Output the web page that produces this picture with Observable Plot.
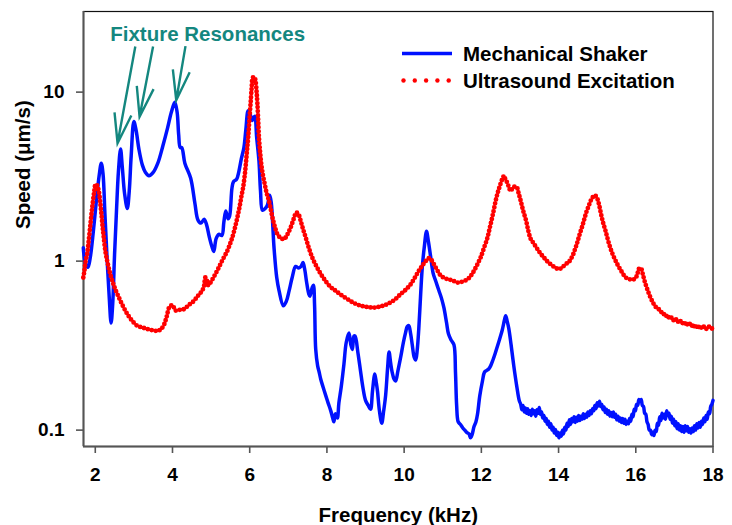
<!DOCTYPE html>
<html><head><meta charset="utf-8">
<script src="https://cdn.jsdelivr.net/npm/d3@7"></script>
<script src="https://cdn.jsdelivr.net/npm/@observablehq/plot@0.6"></script>
<style>
body{margin:0;background:#fff;}
#chart{width:732px;height:525px;}
</style></head><body><div id="chart"></div>
<script>
// ---- data ----
const shakerFreq = [1.69,1.75,1.81,1.87,1.95,2.03,2.10,2.155,2.20,2.25,2.30,2.36,2.41,2.45,2.50,2.55,2.60,2.655,2.70,2.76,2.83,2.88,2.93,3.00,3.06,3.13,3.22,3.30,3.39,3.50,3.62,3.75,3.87,3.97,4.06,4.12,4.16,4.20,4.24,4.32,4.47,4.58,4.66,4.74,4.82,4.88,4.95,5.02,5.07,5.13,5.20,5.28,5.33,5.38,5.44,5.48,5.54,5.58,5.66,5.72,5.78,5.85,5.90,5.96,6.02,6.07,6.13,6.18,6.24,6.28,6.33,6.40,6.46,6.52,6.56,6.63,6.70,6.76,6.87,6.95,7.02,7.10,7.19,7.27,7.33,7.38,7.43,7.47,7.53,7.56,7.62,7.65,7.68,7.71,7.76,7.80,7.84,7.90,7.97,8.03,8.10,8.15,8.18,8.22,8.27,8.31,8.37,8.44,8.50,8.57,8.62,8.66,8.70,8.73,8.80,8.87,8.93,9.00,9.07,9.13,9.18,9.24,9.28,9.31,9.36,9.42,9.47,9.52,9.57,9.61,9.65,9.69,9.74,9.78,9.84,9.91,9.98,10.04,10.08,10.12,10.17,10.21,10.26,10.30,10.34,10.38,10.43,10.47,10.52,10.58,10.63,10.69,10.75,10.82,10.90,10.97,11.03,11.10,11.15,11.22,11.29,11.33,11.36,11.40,11.46,11.52,11.57,11.62,11.68,11.72,11.76,11.81,11.86,11.90,11.96,12.03,12.08,12.13,12.19,12.24,12.30,12.36,12.41,12.48,12.54,12.60,12.63,12.67,12.71,12.77,12.84,12.92,12.98,
13.02,13.05,13.08,13.11,13.14,13.17,13.20,13.23,13.26,13.29,13.32,13.35,13.38,13.41,13.44,13.47,13.50,13.53,13.56,13.59,13.62,13.65,13.68,13.71,13.74,13.77,13.80,13.83,13.86,13.89,13.92,13.95,13.98,14.01,14.04,14.07,14.10,14.13,14.16,14.19,14.22,14.25,14.28,14.31,14.34,14.37,14.40,14.43,14.46,14.49,14.52,14.55,14.58,14.61,14.64,14.67,14.70,14.73,14.76,14.79,14.82,14.85,14.88,14.91,14.94,14.97,15.00,15.03,15.06,15.09,15.12,15.15,15.18,15.21,15.24,15.27,15.30,15.33,15.36,15.39,15.42,15.45,15.48,15.51,15.54,15.57,15.60,15.63,15.66,15.69,15.72,15.75,15.78,15.81,15.84,15.87,15.90,15.93,15.96,15.99,16.02,16.05,16.08,16.11,16.14,16.17,16.20,16.23,16.26,16.29,16.32,16.35,16.38,16.41,16.44,16.47,16.50,16.53,16.56,16.59,16.62,16.65,16.68,16.71,16.74,16.77,16.80,16.83,16.86,16.89,16.92,16.95,16.98,17.01,17.04,17.07,17.10,17.13,17.16,17.19,17.22,17.25,17.28,17.31,17.34,17.37,17.40,17.43,17.46,17.49,17.52,17.55,17.58,17.61,17.64,17.67,17.70,17.73,17.76,17.79,17.82,17.85,17.88,17.91,17.94,17.97,18.00];
const shakerSpeed = [1.2,0.96,0.92,1.05,1.5,2.3,3.2,3.8,3.3,1.9,1.1,0.62,0.43,0.55,1.1,2.0,3.4,4.6,3.6,2.5,2.05,2.6,4.2,6.7,5.9,4.6,3.7,3.35,3.2,3.35,3.8,4.8,6.1,7.6,8.7,7.6,5.6,4.7,4.7,3.8,3.1,2.2,1.75,1.68,1.77,1.65,1.4,1.22,1.14,1.36,1.44,1.42,1.7,1.98,1.78,1.85,2.7,2.95,3.05,3.4,4.0,4.7,6.0,7.75,7.3,6.8,7.2,5.4,3.9,2.6,2.0,2.05,2.15,2.45,2.2,1.2,0.8,0.67,0.545,0.58,0.667,0.8,0.93,0.91,0.93,0.98,0.88,0.76,0.64,0.62,0.7,0.72,0.55,0.30,0.24,0.22,0.2,0.18,0.16,0.145,0.13,0.118,0.112,0.125,0.118,0.145,0.18,0.245,0.33,0.375,0.32,0.30,0.36,0.36,0.29,0.224,0.18,0.15,0.14,0.133,0.17,0.215,0.19,0.17,0.13,0.11,0.13,0.16,0.23,0.29,0.25,0.22,0.2,0.195,0.225,0.27,0.33,0.38,0.41,0.415,0.37,0.32,0.27,0.26,0.30,0.40,0.65,0.92,1.2,1.5,1.3,1.05,0.85,0.76,0.67,0.6,0.53,0.43,0.37,0.34,0.32,0.22,0.14,0.112,0.108,0.103,0.1,0.097,0.095,0.09,0.094,0.105,0.112,0.124,0.16,0.196,0.22,0.225,0.23,0.24,0.26,0.285,0.31,0.35,0.39,0.45,0.475,0.44,0.4,0.32,0.24,0.18,0.15,
0.142,0.132,0.14,0.128,0.135,0.126,0.134,0.124,0.13,0.122,0.133,0.125,0.13,0.121,0.132,0.126,0.136,0.124,0.128,0.118,0.122,0.113,0.117,0.108,0.113,0.104,0.109,0.1,0.104,0.096,0.101,0.093,0.097,0.09,0.096,0.092,0.1,0.095,0.104,0.1,0.11,0.105,0.115,0.108,0.117,0.112,0.12,0.111,0.119,0.113,0.122,0.114,0.121,0.116,0.125,0.117,0.124,0.119,0.128,0.122,0.13,0.125,0.134,0.13,0.14,0.134,0.145,0.139,0.148,0.138,0.142,0.132,0.137,0.127,0.133,0.124,0.13,0.121,0.127,0.12,0.128,0.119,0.124,0.115,0.121,0.113,0.118,0.111,0.117,0.11,0.116,0.108,0.113,0.109,0.117,0.113,0.124,0.12,0.133,0.13,0.142,0.14,0.152,0.148,0.152,0.14,0.138,0.126,0.124,0.112,0.108,0.1,0.1,0.094,0.097,0.093,0.1,0.098,0.11,0.107,0.12,0.114,0.126,0.118,0.124,0.116,0.13,0.122,0.126,0.116,0.121,0.11,0.116,0.106,0.112,0.102,0.109,0.1,0.106,0.098,0.105,0.097,0.106,0.099,0.105,0.097,0.102,0.096,0.103,0.098,0.106,0.1,0.109,0.103,0.111,0.104,0.113,0.108,0.118,0.112,0.122,0.116,0.128,0.125,0.138,0.142,0.15];

const ultraFreq = [1.69,1.72,1.75,1.79,1.83,1.88,1.92,1.97,2.01,2.05,2.09,2.13,2.16,2.19,2.22,2.26,2.31,2.37,2.44,2.52,2.61,2.72,2.83,2.95,3.09,3.22,3.35,3.48,3.61,3.70,3.78,3.85,3.91,3.96,4.00,4.04,4.08,4.18,4.30,4.42,4.55,4.65,4.73,4.81,4.85,4.88,4.93,4.99,5.10,5.20,5.30,5.42,5.50,5.55,5.61,5.66,5.71,5.75,5.79,5.83,5.87,5.90,5.93,5.96,5.99,6.02,6.05,6.08,6.12,6.15,6.18,6.20,6.22,6.24,6.27,6.30,6.34,6.39,6.44,6.50,6.55,6.59,6.65,6.72,6.80,6.89,6.97,7.06,7.14,7.21,7.27,7.32,7.38,7.45,7.53,7.62,7.72,7.84,7.97,8.10,8.18,8.33,8.53,8.70,8.87,9.05,9.22,9.40,9.56,9.75,9.91,10.05,10.17,10.28,10.38,10.47,10.56,10.64,10.70,10.77,10.85,10.95,11.07,11.20,11.30,11.38,11.50,11.64,11.73,11.81,11.90,11.98,12.07,12.16,12.22,12.28,12.33,12.37,12.42,12.48,12.54,12.59,12.63,12.67,12.72,12.76,12.83,12.91,12.97,13.02,13.08,13.16,13.22,13.28,13.36,13.45,13.53,13.62,13.72,13.84,13.93,14.01,14.10,14.18,14.25,14.31,14.38,14.44,14.49,14.55,14.61,14.66,14.72,14.78,14.83,14.88,14.94,15.00,15.05,15.10,15.15,15.22,15.31,15.40,15.52,15.63,15.74,15.85,15.95,16.03,16.08,16.13,16.18,16.23,16.30,16.38,
16.46,16.52,16.58,16.64,16.70,16.76,16.82,16.88,16.94,17.00,17.06,17.12,17.18,17.24,17.30,17.36,17.42,17.48,17.54,17.60,17.66,17.72,17.78,17.84,17.90,17.96,18.00];
const ultraSpeed = [0.8,0.88,1.0,1.1,1.32,1.7,2.07,2.55,2.85,2.8,2.6,2.2,1.9,1.6,1.38,1.15,1.0,0.87,0.765,0.68,0.61,0.54,0.486,0.445,0.414,0.405,0.396,0.39,0.387,0.395,0.42,0.47,0.53,0.545,0.55,0.53,0.51,0.515,0.52,0.55,0.58,0.62,0.65,0.70,0.8,0.78,0.72,0.75,0.83,0.917,1.02,1.15,1.28,1.38,1.55,1.73,1.95,2.17,2.45,2.73,3.2,3.75,4.5,5.38,6.8,8.4,10.5,12.2,12.3,11.7,10.0,8.5,6.8,5.38,4.4,3.75,3.25,2.85,2.52,2.27,2.0,1.81,1.6,1.44,1.37,1.35,1.43,1.58,1.78,1.94,1.88,1.73,1.55,1.38,1.2,1.05,0.94,0.84,0.76,0.70,0.68,0.64,0.596,0.565,0.545,0.535,0.531,0.54,0.556,0.59,0.638,0.68,0.73,0.8,0.876,0.94,1.0,1.04,1.02,0.96,0.89,0.82,0.79,0.775,0.76,0.747,0.755,0.78,0.82,0.876,0.96,1.05,1.2,1.38,1.58,1.81,2.05,2.27,2.52,2.79,3.05,3.2,3.0,2.92,2.7,2.6,2.75,2.75,2.5,2.27,2.0,1.73,1.5,1.35,1.27,1.18,1.11,1.05,0.99,0.94,0.91,0.897,0.92,0.96,0.98,1.02,1.1,1.2,1.3,1.45,1.6,1.75,1.95,2.12,2.27,2.38,2.45,2.35,2.15,1.9,1.7,1.5,1.26,1.1,0.96,0.87,0.8,0.78,0.78,0.82,0.9,0.91,0.84,0.76,0.68,0.61,
0.56,0.535,0.525,0.5,0.5,0.47,0.48,0.455,0.465,0.44,0.455,0.43,0.445,0.42,0.435,0.415,0.43,0.405,0.42,0.4,0.415,0.398,0.412,0.396,0.41,0.398,0.405];

const seriesNames = ["Mechanical Shaker", "Ultrasound Excitation"];
const xTicks = [2, 4, 6, 8, 10, 12, 14, 16, 18];
const yTicks = [0.1, 1, 10];
const yTickLabels = ["0.1", "1", "10"];
const xLabel = "Frequency (kHz)";
const yLabel = "Speed (\u03bcm/s)";
const annotationText = "Fixture Resonances";
// arrows: tail and tip in (kHz, µm/s)
const arrowTailFreq = [3.05, 3.51, 4.35];
const arrowTailSpeed = [18.5, 18.5, 18.6];
const arrowTipFreq = [2.59, 3.16, 4.11];
const arrowTipSpeed = [4.95, 7.1, 8.9];

// ---- styles ----
const BLUE = "#0011ff", RED = "#ff0000", TEAL = "#14877f";
const FONT = "'Liberation Sans', Arial, Helvetica, sans-serif";

const shaker = shakerFreq.map((f, i) => ({f, v: shakerSpeed[i]}));
const ultra = ultraFreq.map((f, i) => ({f, v: ultraSpeed[i]}));
if (shakerFreq.length !== shakerSpeed.length || ultraFreq.length !== ultraSpeed.length) console.error("length mismatch");

function arrowMark(index, scales) {
  const g = d3.create("svg:g")
    .attr("stroke", TEAL).attr("stroke-width", 2.4).attr("fill", "none");
  const L = 31, h = 16 * Math.PI / 180;
  arrowTipFreq.forEach((_, i) => {
    const x1 = scales.x(arrowTailFreq[i]), y1 = scales.y(arrowTailSpeed[i]);
    const x2 = scales.x(arrowTipFreq[i]), y2 = scales.y(arrowTipSpeed[i]);
    const a = Math.atan2(y1 - y2, x1 - x2);
    g.append("path").attr("d",
      `M${x1},${y1}L${x2},${y2}` +
      `M${x2 + L * Math.cos(a - h)},${y2 + L * Math.sin(a - h)}L${x2},${y2}L${x2 + L * Math.cos(a + h)},${y2 + L * Math.sin(a + h)}`);
  });
  return g.node();
}

function legendMark() {
  const g = d3.create("svg:g").attr("font-size", 20.5).attr("font-weight", "bold")
    .attr("fill", "#000").attr("text-anchor", "start");
  const x0 = 402, x1 = 452, tx = 463;
  g.append("line").attr("x1", x0).attr("x2", x1).attr("y1", 53.5).attr("y2", 53.5)
    .attr("stroke", BLUE).attr("stroke-width", 3.4);
  g.append("text").attr("x", tx).attr("y", 61).attr("text-anchor", "start").text(seriesNames[0]);
  for (let k = 0; k < 5; k++) {
    g.append("circle").attr("cx", 403.5 + k * 11.3).attr("cy", 80.5).attr("r", 2.2).attr("fill", RED);
  }
  g.append("text").attr("x", tx).attr("y", 87.5).attr("text-anchor", "start").text(seriesNames[1]);
  return g.node();
}

const chart = Plot.plot({
  width: 732, height: 525,
  marginLeft: 83, marginRight: 19.5, marginTop: 11, marginBottom: 79,
  style: {fontFamily: FONT, fontWeight: "bold", fontSize: "19px", color: "#000", background: "#fff"},
  x: {type: "linear", domain: [1.695, 18]},
  y: {type: "log", domain: [0.08, 30]},
  marks: [
    Plot.frame({stroke: "#111", strokeWidth: 1.2}),
    Plot.ruleX([1.695], {stroke: "#555", strokeWidth: 2}),
    Plot.ruleY([0.08], {stroke: "#555", strokeWidth: 2}),
    Plot.axisX({ticks: xTicks, tickSize: 7, tickPadding: 14, label: null, stroke: "#555", strokeWidth: 1.6, fontSize: 19, fill: "#000"}),
    Plot.axisY({ticks: yTicks, tickFormat: d => yTickLabels[yTicks.indexOf(d)], tickSize: 7, tickPadding: 12, label: null, stroke: "#555", strokeWidth: 1.6, fontSize: 19, fill: "#000"}),
    Plot.line(shaker, {x: "f", y: "v", stroke: BLUE, strokeWidth: 3.5, curve: "catmull-rom", strokeLinejoin: "round"}),
    Plot.line(ultra, {x: "f", y: "v", stroke: RED, strokeWidth: 4.8, strokeDasharray: "0 4", strokeLinecap: "round", curve: "catmull-rom"}),
    Plot.text([annotationText], {x: () => 4.91, y: () => 22, text: d => d, fill: TEAL, fontSize: 20.5, fontWeight: "bold", textAnchor: "middle", lineAnchor: "middle"}),
    arrowMark,
    legendMark,
    Plot.text([xLabel], {frameAnchor: "bottom", text: d => d, dy: 61, lineAnchor: "top", fontSize: 20.5, fontWeight: "bold", fill: "#000"}),
    Plot.text([yLabel], {frameAnchor: "left", text: d => d, dx: -60, rotate: -90, lineAnchor: "middle", fontSize: 20.5, fontWeight: "bold", fill: "#000"})
  ]
});
document.getElementById("chart").appendChild(chart);
</script></body></html>
